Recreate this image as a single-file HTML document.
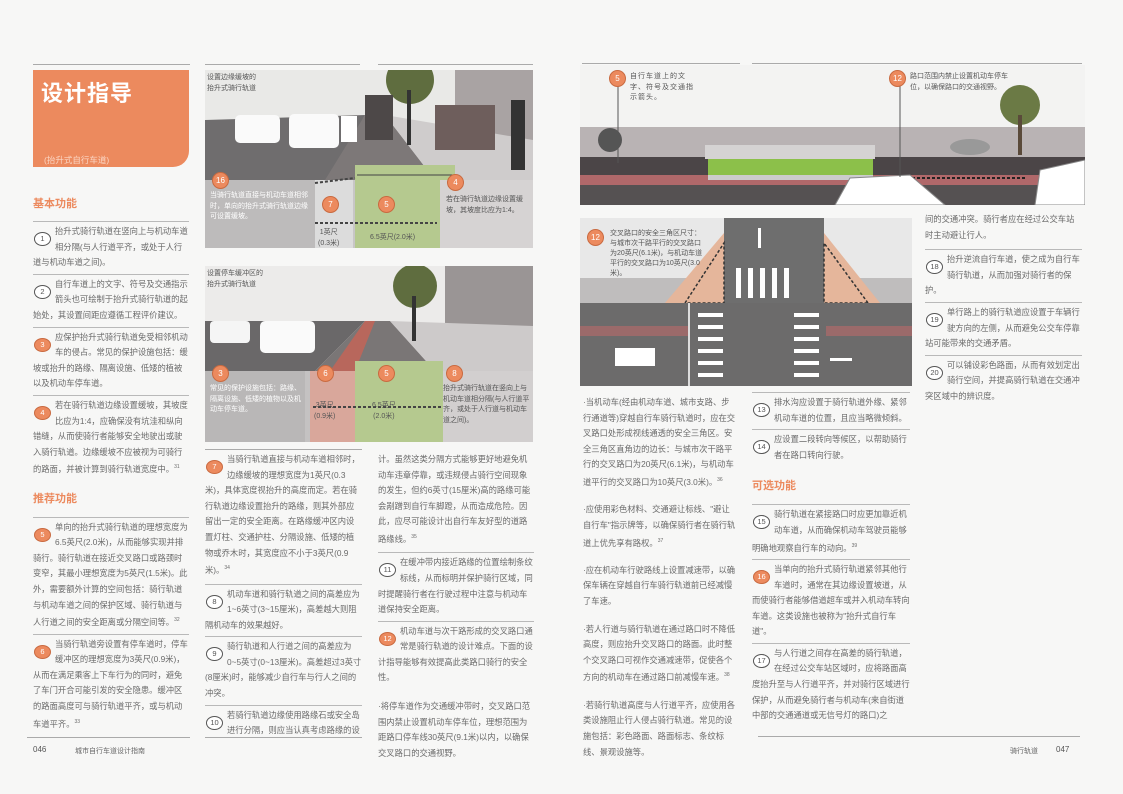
<!DOCTYPE html>
<html><head><meta charset="utf-8">
<style>
*{margin:0;padding:0;box-sizing:border-box}
body{width:1123px;height:794px;position:relative;background:#f7f7f6;font-family:"Liberation Sans","Noto Sans CJK SC",sans-serif;color:#6a6a6a;overflow:hidden}
.a{position:absolute}
.col{position:absolute;font-size:8.3px;line-height:15.6px;letter-spacing:0}
.it{border-top:1px solid #b9b9b9;padding-top:2px;padding-bottom:3px}
.c{float:left;width:22px;height:31px;position:relative}
.c i{position:absolute;left:1px;top:8px;width:17px;height:14px;border:1.2px solid #555;border-radius:50%;font-style:normal;font-size:7.5px;line-height:11px;text-align:center;color:#555;background:#fff}
.c i.o{background:#ec8a5e;border-color:#c96a40;color:#fff}
.h{color:#ec8a5e;font-size:11px;font-weight:bold;margin:0 0 8px;line-height:16px}
.bul{margin-bottom:12px}
.rule{position:absolute;height:1px;background:#aaa}
.bc{position:absolute;width:17px;height:17px;border-radius:50%;background:#ec8a5e;border:1px solid #c96a40;color:#fff;font-size:8px;line-height:15px;text-align:center}
.sm{position:absolute;font-size:7px;line-height:10.5px;color:#555}
sup{font-size:5px}
</style></head><body>

<div class="rule" style="left:33px;top:64px;width:157px"></div>
<div class="rule" style="left:205px;top:64px;width:155px"></div>
<div class="rule" style="left:378px;top:64px;width:155px"></div>
<div class="rule" style="left:582px;top:63px;width:158px"></div>
<div class="rule" style="left:752px;top:63px;width:330px"></div>

<div class="a" style="left:33px;top:70px;width:156px;height:97px;background:#ec8a5e;border-bottom-right-radius:16px"></div>
<div class="a" style="left:41px;top:76px;color:#fff;font-size:22px;font-weight:bold;letter-spacing:1px">设计指导</div>
<div class="a" style="left:44px;top:154px;color:#fbd6c4;font-size:8.5px">(抬升式自行车道)</div>

<div class="col" style="left:33px;top:196px;width:156px">
<div class="h" style="margin-bottom:9px">基本功能</div>
<div class="it"><span class="c"><i>1</i></span>抬升式骑行轨道在竖向上与机动车道相分隔(与人行道平齐，或处于人行道与机动车道之间)。</div>
<div class="it"><span class="c"><i>2</i></span>自行车道上的文字、符号及交通指示箭头也可绘制于抬升式骑行轨道的起始处，其设置间距应遵循工程评价建议。</div>
<div class="it"><span class="c"><i class="o">3</i></span>应保护抬升式骑行轨道免受相邻机动车的侵占。常见的保护设施包括：缓坡或抬升的路缘、隔离设施、低矮的植被以及机动车停车道。</div>
<div class="it"><span class="c"><i class="o">4</i></span>若在骑行轨道边缘设置缓坡，其坡度比应为1:4，应确保没有坑洼和纵向错缝，从而使骑行者能够安全地驶出或驶入骑行轨道。边缘缓坡不应被视为可骑行的路面，并被计算到骑行轨道宽度中。<sup>31</sup></div>
<div class="h" style="margin-top:10px;margin-bottom:10px">推荐功能</div>
<div class="it"><span class="c"><i class="o">5</i></span>单向的抬升式骑行轨道的理想宽度为6.5英尺(2.0米)，从而能够实现并排骑行。骑行轨道在接近交叉路口或路颈时变窄，其最小理想宽度为5英尺(1.5米)。此外，需要额外计算的空间包括：骑行轨道与机动车道之间的保护区域、骑行轨道与人行道之间的安全距离或分隔空间等。<sup>32</sup></div>
<div class="it"><span class="c"><i class="o">6</i></span>当骑行轨道旁设置有停车道时，停车缓冲区的理想宽度为3英尺(0.9米)，从而在满足乘客上下车行为的同时，避免了车门开合可能引发的安全隐患。缓冲区的路面高度可与骑行轨道平齐，或与机动车道平齐。<sup>33</sup></div>
</div>

<!-- image 1 -->
<svg class="a" style="left:205px;top:70px" width="328" height="178">
<rect width="328" height="178" fill="#e9e9e7"/>
<rect x="250" y="0" width="78" height="110" fill="#a9a3a3"/>
<polygon points="0,50 160,45 120,120 0,120" fill="#6f6d6e"/>
<polygon points="160,45 180,45 230,110 120,110" fill="#7d7878"/>
<polygon points="180,45 328,70 328,110 230,110" fill="#cfcccc"/>
<rect x="0" y="110" width="328" height="68" fill="#c8c6c6"/>
<rect x="150" y="95" width="100" height="83" fill="#b5c98f"/>
<rect x="110" y="110" width="38" height="68" fill="#dcdcdc"/>
<rect x="235" y="110" width="93" height="68" fill="#d6d3d3"/>
<rect x="0" y="110" width="110" height="68" fill="#bdbbbb"/>
<rect x="30" y="45" width="45" height="28" rx="5" fill="#fafafa"/>
<rect x="84" y="44" width="50" height="34" rx="5" fill="#fafafa"/>
<rect x="136" y="46" width="16" height="26" fill="#fff"/>
<circle cx="205" cy="10" r="24" fill="#5f6d3f"/><rect x="202" y="20" width="4" height="55" fill="#333"/>
<rect x="160" y="25" width="28" height="45" fill="#4d4848"/>
<rect x="230" y="35" width="60" height="45" fill="#6e5e5c"/>
<rect x="306" y="30" width="14" height="70" fill="#333"/>
<line x1="110" y1="113" x2="150" y2="108" stroke="#444" stroke-width="2" stroke-dasharray="3,2"/>
<line x1="110" y1="153" x2="232" y2="153" stroke="#444" stroke-width="2" stroke-dasharray="3,2"/>
<line x1="152" y1="105" x2="250" y2="105" stroke="#444"/>
</svg>
<div class="sm" style="left:207px;top:73px">设置边缘缓坡的<br>抬升式骑行轨道</div>
<div class="bc" style="left:212px;top:172px">16</div>
<div class="sm" style="left:210px;top:191px;color:#fff;width:100px">当骑行轨道直接与机动车道相邻时，单向的抬升式骑行轨道边缘可设置缓坡。</div>
<div class="bc" style="left:322px;top:196px">7</div>
<div class="bc" style="left:378px;top:196px">5</div>
<div class="bc" style="left:447px;top:174px">4</div>
<div class="sm" style="left:446px;top:195px;width:85px">若在骑行轨道边缘设置缓坡，其坡度比应为1:4。</div>
<div class="sm" style="left:318px;top:228px;text-align:center">1英尺<br>(0.3米)</div>
<div class="sm" style="left:370px;top:233px">6.5英尺(2.0米)</div>

<!-- image 2 -->
<svg class="a" style="left:205px;top:266px" width="328" height="176">
<rect width="328" height="176" fill="#ecebea"/>
<rect x="240" y="0" width="88" height="90" fill="#9a9595"/>
<polygon points="0,55 160,55 110,105 0,110" fill="#6a6869"/>
<polygon points="160,55 185,55 230,105 110,105" fill="#7a7676"/>
<polygon points="185,55 328,60 328,110 230,105" fill="#cdcaca"/>
<rect x="0" y="105" width="328" height="71" fill="#c4c2c2"/>
<rect x="0" y="105" width="100" height="71" fill="#b9b7b7"/>
<rect x="105" y="105" width="45" height="71" fill="#d9a79b"/>
<polygon points="125,105 160,55 170,55 150,105" fill="#b8675c"/>
<rect x="150" y="95" width="88" height="81" fill="#b5c98f"/>
<rect x="238" y="105" width="90" height="71" fill="#d2cfcf"/>
<rect x="55" y="55" width="55" height="32" rx="5" fill="#fafafa"/>
<rect x="5" y="55" width="40" height="22" rx="4" fill="#f5f5f5"/>
<circle cx="210" cy="20" r="22" fill="#5f6d3f"/><rect x="207" y="30" width="4" height="45" fill="#333"/>
<line x1="108" y1="141" x2="238" y2="141" stroke="#444" stroke-width="2" stroke-dasharray="3,2"/>
</svg>
<div class="sm" style="left:207px;top:269px">设置停车缓冲区的<br>抬升式骑行轨道</div>
<div class="bc" style="left:212px;top:365px">3</div>
<div class="sm" style="left:210px;top:384px;color:#fff;width:95px">常见的保护设施包括：路缘、隔离设施、低矮的植物以及机动车停车道。</div>
<div class="bc" style="left:317px;top:365px">6</div>
<div class="bc" style="left:378px;top:365px">5</div>
<div class="bc" style="left:446px;top:365px">8</div>
<div class="sm" style="left:443px;top:384px;width:90px">抬升式骑行轨道在竖向上与机动车道相分隔(与人行道平齐，或处于人行道与机动车道之间)。</div>
<div class="sm" style="left:314px;top:401px;text-align:center">3英尺<br>(0.9米)</div>
<div class="sm" style="left:372px;top:401px;text-align:center">6.5英尺<br>(2.0米)</div>

<div class="rule" style="left:205px;top:449px;width:157px"></div>
<div class="col" style="left:205px;top:452px;width:157px">
<div style="padding-bottom:5px"><span class="c"><i class="o">7</i></span>当骑行轨道直接与机动车道相邻时，边缘缓坡的理想宽度为1英尺(0.3米)，具体宽度视抬升的高度而定。若在骑行轨道边缘设置抬升的路缘，则其外部应留出一定的安全距离。在路缘缓冲区内设置灯柱、交通护柱、分隔设施、低矮的植物或乔木时，其宽度应不小于3英尺(0.9米)。<sup>34</sup></div>
<div class="it"><span class="c"><i>8</i></span>机动车道和骑行轨道之间的高差应为1~6英寸(3~15厘米)，高差越大则阻隔机动车的效果越好。</div>
<div class="it"><span class="c"><i>9</i></span>骑行轨道和人行道之间的高差应为0~5英寸(0~13厘米)。高差超过3英寸(8厘米)时，能够减少自行车与行人之间的冲突。</div>
<div class="it"><span class="c"><i>10</i></span>若骑行轨道边缘使用路缘石或安全岛进行分隔，则应当认真考虑路缘的设</div>
</div>
<div class="rule" style="left:205px;top:737px;width:157px"></div>
<div class="col" style="left:378px;top:452px;width:156px">
<div style="padding-bottom:5px">计。虽然这类分隔方式能够更好地避免机动车违章停靠，或违规侵占骑行空间现象的发生，但约6英寸(15厘米)高的路缘可能会剐蹭到自行车脚蹬，从而造成危险。因此，应尽可能设计出自行车友好型的道路路缘线。<sup>35</sup></div>
<div class="it"><span class="c"><i>11</i></span>在缓冲带内接近路缘的位置绘制条纹标线，从而标明并保护骑行区域，同时提醒骑行者在行驶过程中注意与机动车道保持安全距离。</div>
<div class="it"><span class="c"><i class="o">12</i></span>机动车道与次干路形成的交叉路口通常是骑行轨道的设计难点。下面的设计指导能够有效提高此类路口骑行的安全性。</div>
<div style="margin-top:10px">·将停车道作为交通缓冲带时，交叉路口范围内禁止设置机动车停车位，理想范围为距路口停车线30英尺(9.1米)以内，以确保交叉路口的交通视野。</div>
</div>

<!-- right top image -->
<svg class="a" style="left:580px;top:65px" width="505" height="140">
<rect width="505" height="140" fill="#f3f3f2"/>
<rect x="0" y="62" width="505" height="30" fill="#b9b3b4"/>
<rect x="0" y="92" width="505" height="18" fill="#4b4547"/>
<rect x="0" y="110" width="505" height="10" fill="#b0686a"/>
<rect x="0" y="120" width="505" height="20" fill="#555152"/>
<rect x="128" y="92" width="165" height="18" fill="#8cc04a"/>
<rect x="128" y="110" width="165" height="5" fill="#ccc"/>
<rect x="125" y="80" width="170" height="14" fill="#d5d3d3"/>
<line x1="302" y1="113" x2="446" y2="113" stroke="#222" stroke-width="2" stroke-dasharray="3,2"/>
<circle cx="440" cy="40" r="20" fill="#6b7a45"/><rect x="438" y="50" width="4" height="40" fill="#5a4a3a"/>
<ellipse cx="390" cy="82" rx="20" ry="8" fill="#999"/>
<circle cx="30" cy="75" r="12" fill="#555"/>
<path d="M255 140 L270 113 L330 110 L365 140 Z" fill="#fff" stroke="#888"/>
<path d="M455 140 L460 105 L505 95 L505 140 Z" fill="#fff" stroke="#888"/>
<line x1="38" y1="10" x2="38" y2="98" stroke="#555"/>
<line x1="320" y1="10" x2="320" y2="112" stroke="#555"/>
</svg>
<div class="bc" style="left:609px;top:70px">5</div>
<div class="sm" style="left:630px;top:72px;width:65px;letter-spacing:1px">自行车道上的文字、符号及交通指示箭头。</div>
<div class="bc" style="left:889px;top:70px">12</div>
<div class="sm" style="left:910px;top:72px;width:110px">路口范围内禁止设置机动车停车位，以确保路口的交通视野。</div>

<!-- intersection -->
<svg class="a" style="left:580px;top:218px" width="332" height="168">
<rect width="332" height="168" fill="#dcdcdc"/>
<rect x="0" y="0" width="332" height="60" fill="#e8e8e8"/>
<rect x="0" y="60" width="332" height="25" fill="#bfbdbd"/>
<rect x="144" y="0" width="100" height="85" fill="#6e6e6e"/>
<polygon points="85,85 144,15 144,85" fill="#e5b69b"/>
<polygon points="244,15 244,85 300,85" fill="#e5b69b"/>
<polyline points="105,85 144,25 144,85 105,85" fill="none" stroke="#333" stroke-width="1.5" stroke-dasharray="3,2"/>
<polyline points="288,85 244,25 244,85 288,85" fill="none" stroke="#333" stroke-width="1.5" stroke-dasharray="3,2"/>
<rect x="0" y="85" width="332" height="83" fill="#6c6b6b"/>
<rect x="0" y="108" width="108" height="10" fill="#9b6a6a"/>
<rect x="246" y="108" width="86" height="10" fill="#9b6a6a"/>
<rect x="108" y="85" width="2" height="83" fill="#ddd"/>
<g fill="#fff"><rect x="156" y="50" width="5" height="30"/><rect x="168" y="50" width="5" height="30"/><rect x="180" y="50" width="5" height="30"/><rect x="192" y="50" width="5" height="30"/><rect x="204" y="50" width="5" height="30"/>
<rect x="118" y="95" width="25" height="4"/><rect x="118" y="107" width="25" height="4"/><rect x="118" y="119" width="25" height="4"/><rect x="118" y="131" width="25" height="4"/><rect x="118" y="143" width="25" height="4"/><rect x="118" y="155" width="25" height="4"/>
<rect x="214" y="95" width="25" height="4"/><rect x="214" y="107" width="25" height="4"/><rect x="214" y="119" width="25" height="4"/><rect x="214" y="131" width="25" height="4"/><rect x="214" y="143" width="25" height="4"/><rect x="214" y="155" width="25" height="4"/>
<rect x="35" y="130" width="40" height="18"/><rect x="178" y="10" width="3" height="20"/><rect x="250" y="140" width="22" height="3"/></g>
</svg>
<div class="bc" style="left:587px;top:229px">12</div>
<div class="sm" style="left:610px;top:229px;width:95px;font-size:7px;line-height:10px">交叉路口的安全三角区尺寸：与城市次干路平行的交叉路口为20英尺(6.1米)，与机动车道平行的交叉路口为10英尺(3.0米)。</div>

<div class="col" style="left:583px;top:395px;width:153px">
<div class="bul">·当机动车(经由机动车道、城市支路、步行通道等)穿越自行车骑行轨道时，应在交叉路口处形成视线通透的安全三角区。安全三角区直角边的边长：与城市次干路平行的交叉路口为20英尺(6.1米)，与机动车道平行的交叉路口为10英尺(3.0米)。<sup>36</sup></div>
<div class="bul">·应使用彩色材料、交通避让标线、"避让自行车"指示牌等，以确保骑行者在骑行轨道上优先享有路权。<sup>37</sup></div>
<div class="bul">·应在机动车行驶路线上设置减速带，以确保车辆在穿越自行车骑行轨道前已经减慢了车速。</div>
<div class="bul">·若人行道与骑行轨道在通过路口时不降低高度，则应抬升交叉路口的路面。此时整个交叉路口可视作交通减速带，促使各个方向的机动车在通过路口前减慢车速。<sup>38</sup></div>
<div class="bul">·若骑行轨道高度与人行道平齐，应使用各类设施阻止行人侵占骑行轨道。常见的设施包括：彩色路面、路面标志、条纹标线、景观设施等。</div>
</div>
<div class="col" style="left:752px;top:392px;width:158px">
<div class="it"><span class="c"><i>13</i></span>排水沟应设置于骑行轨道外缘、紧邻机动车道的位置，且应当略微倾斜。</div>
<div class="it"><span class="c"><i>14</i></span>应设置二段转向等候区，以帮助骑行者在路口转向行驶。</div>
<div class="h" style="margin-top:12px;margin-bottom:10px">可选功能</div>
<div class="it"><span class="c"><i>15</i></span>骑行轨道在紧接路口时应更加靠近机动车道，从而确保机动车驾驶员能够明确地观察自行车的动向。<sup>39</sup></div>
<div class="it"><span class="c"><i class="o">16</i></span>当单向的抬升式骑行轨道紧邻其他行车道时，通常在其边缘设置坡道，从而使骑行者能够借道超车或并入机动车转向车道。这类设施也被称为"抬升式自行车道"。</div>
<div class="it"><span class="c"><i>17</i></span>与人行道之间存在高差的骑行轨道，在经过公交车站区域时，应将路面高度抬升至与人行道平齐，并对骑行区域进行保护，从而避免骑行者与机动车(来自街道中部的交通通道或无信号灯的路口)之</div>
</div>
<div class="col" style="left:925px;top:212px;width:157px">
<div style="padding-bottom:6px">间的交通冲突。骑行者应在经过公交车站时主动避让行人。</div>
<div class="it"><span class="c"><i>18</i></span>抬升逆流自行车道，使之成为自行车骑行轨道，从而加强对骑行者的保护。</div>
<div class="it"><span class="c"><i>19</i></span>单行路上的骑行轨道应设置于车辆行驶方向的左侧，从而避免公交车停靠站可能带来的交通矛盾。</div>
<div class="it"><span class="c"><i>20</i></span>可以铺设彩色路面，从而有效划定出骑行空间，并提高骑行轨道在交通冲突区域中的辨识度。</div>
</div>

<div class="rule" style="left:27px;top:737px;width:163px"></div>
<div class="rule" style="left:758px;top:736px;width:322px"></div>
<div class="a" style="left:33px;top:745px;font-size:8px;color:#555">046</div>
<div class="a" style="left:75px;top:746px;font-size:7px;color:#666">城市自行车道设计指南</div>
<div class="a" style="left:1010px;top:746px;font-size:7px;color:#666">骑行轨道</div>
<div class="a" style="left:1056px;top:745px;font-size:8px;color:#555">047</div>
</body></html>
